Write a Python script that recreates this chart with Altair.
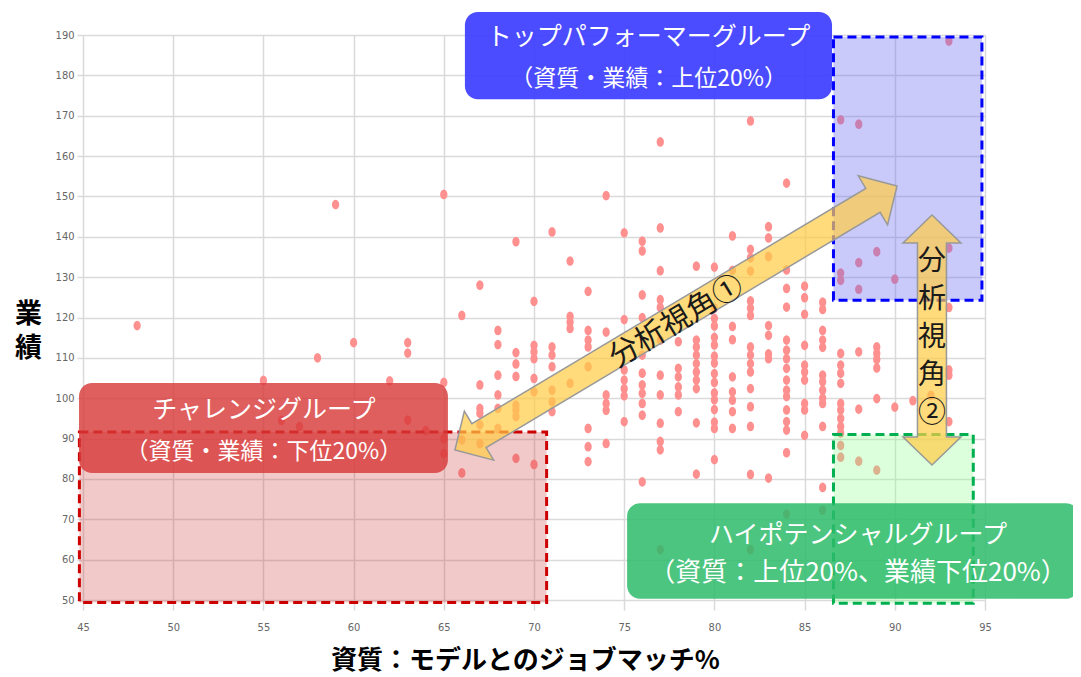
import altair as alt
import pandas as pd

# ---------------- data ----------------
X_TICKS = list(range(45, 96, 5))
Y_TICKS = list(range(50, 191, 10))

# performance values observed at each job-match % column
perf_by_match = {
    48: [118],
    55: [104.4],
    56: [94.5],
    57: [93],
    58: [110],
    59: [148],
    60: [113.8],
    62: [104.3],
    63: [113.8, 111.2, 94.6],
    64: [92],
    65: [150.5, 103.9, 90, 86.3],
    66: [120.5, 89.7, 81.5],
    67: [128, 103.3, 97.5, 96.3, 93.4, 88.8],
    68: [116.8, 113.3, 105.7, 100.8, 97.5, 92.5],
    69: [138.8, 111.3, 108.5, 105.4, 98.3, 97.1, 95.5, 85.1],
    70: [124, 113.1, 111.5, 109.8, 104.9, 101.6, 83.6],
    71: [141.2, 112.7, 110.7, 107.8, 102, 99.1, 96.7],
    72: [134, 120.3, 118.9, 117.3, 103.7],
    73: [126.5, 116.8, 114.4, 112.7, 107.8, 92.5, 88, 84.3],
    74: [150.2, 116.4, 100.8, 98.7, 97, 88.8],
    75: [141, 119.5, 107, 104.5, 102.4, 100.6, 94.2],
    76: [138.9, 136.5, 125.6, 120, 110.7, 106.2, 103.3, 101.2, 98.7, 95.8, 79.3],
    77: [163.5, 142.2, 131.6, 124.4, 122.5, 114.4, 105.7, 100.8, 93.8, 89.3, 87.2, 62.5],
    78: [114, 107.4, 105.3, 102.8, 100.8, 96.7],
    79: [132.7, 114.4, 112.7, 110.7, 108.6, 106.5, 104.5, 102.4, 93.9, 81.2],
    80: [132.5, 122.3, 119.8, 117.9, 115.1, 113.2, 110.4, 108.7, 106.1, 103.9, 101.3, 99.6, 97.2, 94.1, 92.5, 84.8, 58.3],
    81: [140.2, 131.7, 117.8, 114.5, 105.3, 101.6, 99.5, 96.7, 92.5],
    82: [168.7, 136.9, 134.8, 131.5, 124.1, 122.3, 120.5, 112.7, 110.7, 108.6, 106.5, 102.4, 97.9, 93, 81.1, 62.5],
    83: [142.5, 139.7, 135.1, 118, 115.6, 111, 109.8, 80.2],
    84: [153.3, 131.8, 127.2, 122.6, 114.4, 111.9, 109.8, 107.4, 104.5, 102, 100.4, 97.1, 94.2, 92.1, 86.5, 71.3],
    85: [127.8, 124.9, 120.8, 113.1, 108.2, 106.5, 104.5, 98.7, 97.1, 90.8],
    86: [123.8, 122, 116.8, 114.4, 112.6, 105.7, 104.1, 102, 100, 98.7, 93, 77.9, 72.3],
    87: [169, 131, 129.2, 111.1, 108.2, 106.2, 103.7, 98.7, 97.1, 95, 93, 91.4, 88.3, 85.4],
    88: [167.9, 133.6, 127, 111.5, 97.3, 84.4],
    89: [136.3, 112.7, 111.1, 109.6, 107.5, 99.9, 82.2],
    90: [129.5, 97.8],
    91: [99.4],
    92: [100.7],
    93: [188.5, 137.2, 122.5, 107, 105.7, 94.2],
}

# group zones (dashed boxes)
zone_names = ["top", "challenge", "highpot"]
zone_x1 = [86.6, 44.8, 86.6]
zone_x2 = [94.83, 70.7, 94.35]
zone_y1 = [124.3, 49.4, 49.2]
zone_y2 = [189.5, 91.6, 91.0]

# group label boxes
label_x1 = [66.17, 44.78, 75.16]
label_x2 = [86.52, 65.23, 100.21]
label_y1 = [174.1, 81.5, 50.3]
label_y2 = [195.7, 103.8, 74.0]
label_cx = [76.35, 55.03, 87.96]
label_title_y = [189.5, 97.1, 66.0]
label_sub_y = [179.1, 86.7, 56.8]
label_titles = ["トップパフォーマーグループ", "チャレンジグループ", "ハイポテンシャルグループ"]
label_subs = ["（資質・業績：上位20%）", "（資質・業績：下位20%）", "（資質：上位20%、業績下位20%）"]

# analysis-angle arrows (centre points)
arrow1_center = (77.87, 119.88)
arrow2_center = (92.06, 114.43)
arrow1_text = "分析視角①"
arrow1_text_pos = (77.9, 118.9)
arrow2_text = "分\n析\n視\n角\n②"
arrow2_text_pos = (92.06, 133.8)   # first line

# ---------------- styles ----------------
JP = "Noto Sans CJK JP"
NUM = "'Liberation Sans Narrow', 'DejaVu Sans Condensed', 'Liberation Sans', sans-serif"
zone_fill = {"top": "#6464f0", "challenge": "#d23c3c", "highpot": "#8cff8c"}
zone_fill_op = {"top": 0.35, "challenge": 0.28, "highpot": 0.3}
zone_stroke = {"top": "#0000ff", "challenge": "#cc0000", "highpot": "#00b050"}
label_fill = {"top": "#3c3cff", "challenge": "#d73737", "highpot": "#2dbb6a"}
label_op = {"top": 0.92, "challenge": 0.8, "highpot": 0.85}
label_title_size = {"top": 25, "challenge": 25, "highpot": 25}
label_sub_size = {"top": 23, "challenge": 23, "highpot": 26}

ARROW1_PATH = ("M-1,0 L-0.891,-0.111 L-0.891,-0.054 L0.891,-0.054 L0.891,-0.111 "
               "L1,0 L0.891,0.111 L0.891,0.054 L-0.891,0.054 L-0.891,0.111 Z")
ARROW2_PATH = ("M-1,0 L-0.776,-0.232 L-0.776,-0.116 L0.776,-0.116 L0.776,-0.232 "
               "L1,0 L0.776,0.232 L0.776,0.116 L-0.776,0.116 L-0.776,0.232 Z")
ELLIPSE = "M-0.75,0 A0.75,1 0 1,0 0.75,0 A0.75,1 0 1,0 -0.75,0 Z"

xscale = alt.Scale(domain=[45, 95], nice=False, zero=False)
yscale = alt.Scale(domain=[50, 190], nice=False, zero=False)

rows = [(m, p) for m, ps in perf_by_match.items() for p in ps]
pts = pd.DataFrame(rows, columns=["match", "perf"])

grid_col = "#dadada"
points = alt.Chart(pts).mark_point(
    shape=ELLIPSE, filled=True, size=95, color="#ff9090", opacity=1
).encode(
    x=alt.X("match:Q", scale=xscale, axis=alt.Axis(
        values=X_TICKS, title="資質：モデルとのジョブマッチ%", grid=True,
        gridColor=grid_col, gridWidth=1.5, domain=False, ticks=True, tickSize=10,
        tickColor=grid_col, tickWidth=1.5, labelFont=NUM, labelFontSize=11,
        labelColor="#666666", labelPadding=11, labelFlush=False, labelOverlap=False,
        titleFont=JP, titleFontSize=26, titleFontWeight="bold", titleColor="#000000",
        titleX=442, titleY=60, titleBaseline="middle", titleAlign="center")),
    y=alt.Y("perf:Q", scale=yscale, axis=alt.Axis(
        values=Y_TICKS, title=["業", "績"], grid=True, gridColor=grid_col, gridWidth=1.5,
        domain=False, ticks=True, tickSize=6, tickColor=grid_col, tickWidth=1.5,
        labelFont=NUM, labelFontSize=11, labelColor="#666666", labelPadding=3,
        labelFlush=False, labelOverlap=False,
        titleFont=JP, titleFontSize=27, titleFontWeight="bold", titleColor="#000000",
        titleAngle=0, titleX=-55, titleY=279, titleAlign="center",
        titleBaseline="middle", titleLineHeight=34)),
)

layers = [points]


def X(field):
    return alt.X(field, scale=xscale)


def Y(field):
    return alt.Y(field, scale=yscale)


for i, z in enumerate(zone_names):
    df = pd.DataFrame({"x1": [zone_x1[i]], "x2": [zone_x2[i]],
                       "y1": [zone_y1[i]], "y2": [zone_y2[i]]})
    layers.append(alt.Chart(df).mark_rect(
        fill=zone_fill[z], fillOpacity=zone_fill_op[z], stroke=zone_stroke[z],
        strokeWidth=3, strokeDash=[9, 5]
    ).encode(x=X("x1:Q"), x2="x2:Q", y=Y("y1:Q"), y2="y2:Q"))

for i, z in enumerate(zone_names):
    df = pd.DataFrame({"x1": [label_x1[i]], "x2": [label_x2[i]],
                       "y1": [label_y1[i]], "y2": [label_y2[i]]})
    layers.append(alt.Chart(df).mark_rect(
        fill=label_fill[z], opacity=label_op[z], cornerRadius=13
    ).encode(x=X("x1:Q"), x2="x2:Q", y=Y("y1:Q"), y2="y2:Q"))
    tdf = pd.DataFrame({"x": [label_cx[i], label_cx[i]],
                        "y": [label_title_y[i], label_sub_y[i]],
                        "t": [label_titles[i], label_subs[i]],
                        "s": [label_title_size[z], label_sub_size[z]]})
    layers.append(alt.Chart(tdf).mark_text(
        font=JP, color="white", align="center", baseline="middle"
    ).encode(x=X("x:Q"), y=Y("y:Q"), text="t:N",
             size=alt.Size("s:Q", scale=None, legend=None)))

a1 = pd.DataFrame({"x": [arrow1_center[0]], "y": [arrow1_center[1]]})
layers.append(alt.Chart(a1).mark_point(
    shape=ARROW1_PATH, size=515 ** 2, angle=329.15, filled=True, fill="#ffcc44",
    fillOpacity=0.7, stroke="#999999", strokeWidth=1.5, opacity=1
).encode(x=X("x:Q"), y=Y("y:Q")))

a2 = pd.DataFrame({"x": [arrow2_center[0]], "y": [arrow2_center[1]]})
layers.append(alt.Chart(a2).mark_point(
    shape=ARROW2_PATH, size=250 ** 2, angle=90, filled=True, fill="#ffcc44",
    fillOpacity=0.7, stroke="#999999", strokeWidth=1.5, opacity=1
).encode(x=X("x:Q"), y=Y("y:Q")))

t1 = pd.DataFrame({"x": [arrow1_text_pos[0]], "y": [arrow1_text_pos[1]], "t": [arrow1_text]})
layers.append(alt.Chart(t1).mark_text(
    font=JP, fontSize=30, color="#1a1a1a", angle=329.15, align="center", baseline="middle"
).encode(x=X("x:Q"), y=Y("y:Q"), text="t:N"))

t2 = pd.DataFrame({"x": [arrow2_text_pos[0]], "y": [arrow2_text_pos[1]], "t": [arrow2_text]})
layers.append(alt.Chart(t2).mark_text(
    font=JP, fontSize=28, color="#1a1a1a", align="center", baseline="middle",
    lineBreak="\n", lineHeight=38
).encode(x=X("x:Q"), y=Y("y:Q"), text="t:N"))

chart = alt.layer(*layers).properties(
    width=902, height=565,
    padding={"left": 75, "top": 27, "right": 88, "bottom": 77},
    autosize=alt.AutoSizeParams(type="none"),
    background="white",
).configure_view(stroke=None)

chart.save("out.html", embed_options={"renderer": "svg", "actions": False})
